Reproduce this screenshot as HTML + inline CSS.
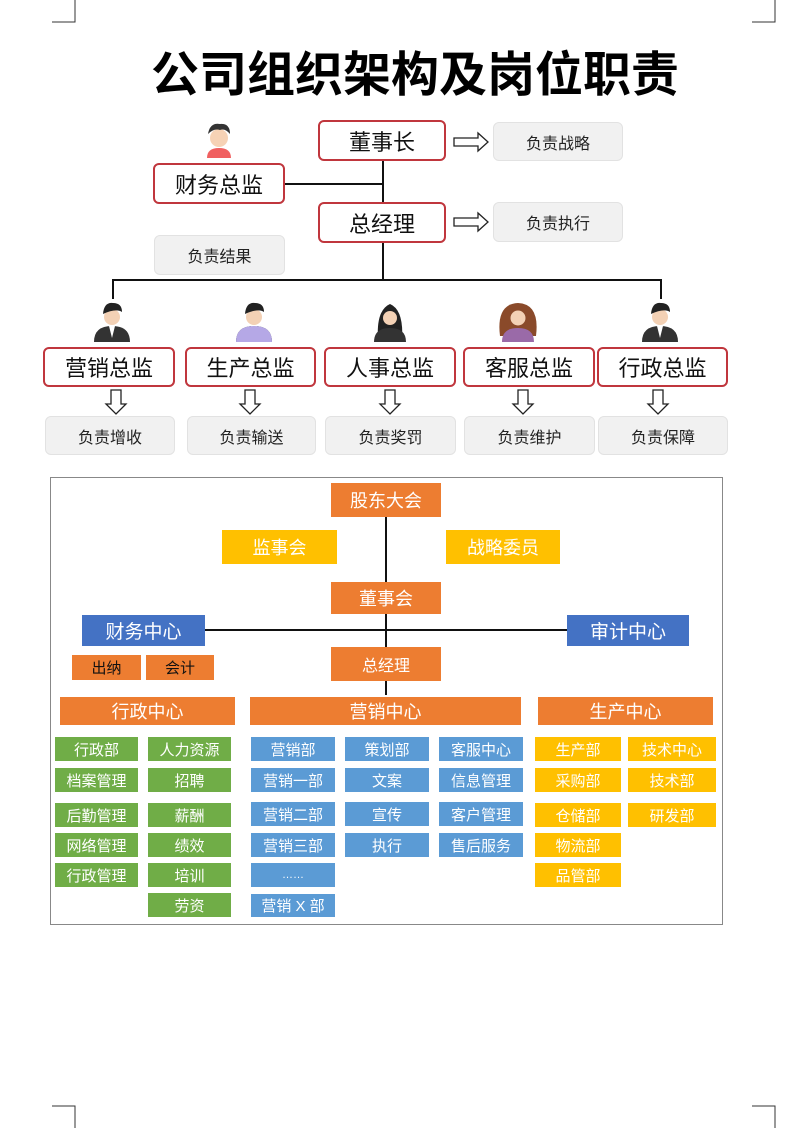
<!DOCTYPE html>
<html><head><meta charset="utf-8"><style>
body{margin:0;background:#fff;}
#c{position:relative;width:800px;height:1128px;overflow:hidden;font-family:"Liberation Sans","Noto Sans CJK SC",sans-serif;}
.a{position:absolute;box-sizing:border-box;display:flex;align-items:center;justify-content:center;white-space:nowrap;}
.r{border:2px solid #c0363d;border-radius:6px;background:#fff;font-size:22px;color:#111;}
.g{background:#f1f1f1;border:1px solid #e2e2e2;border-radius:6px;font-size:16px;color:#222;}
.o{background:#ed7d31;color:#fff;font-size:18px;}
.y{background:#ffc000;color:#fff;font-size:18px;}
.b{background:#4472c4;color:#fff;font-size:19px;}
.gr{background:#70ad47;color:#fff;font-size:15px;}
.bl{background:#5b9bd5;color:#fff;font-size:15px;}
.yl{background:#ffc000;color:#fff;font-size:15px;}
.l{position:absolute;background:#111;}
</style></head><body><div id="c">
<svg width="800" height="1128" style="position:absolute;left:0;top:0">
<g stroke="#333" stroke-width="1" fill="none">
<path d="M52 22H75V0M775 0V22H752M52 1106H75V1128M775 1128V1106H752"/>
</g>
<g stroke="#222" stroke-width="1.3" fill="#fff">
<path d="M454 138H478V133L488 142L478 151V146H454Z"/>
<path d="M454 218H478V213L488 222L478 231V226H454Z"/>
<path id="da" d="M111 390V404H106L116 414L126 404H121V390Z"/>
<use href="#da" x="134"/><use href="#da" x="274"/><use href="#da" x="407"/><use href="#da" x="542"/>
</g>
<g>
<!-- top person -->
<circle cx="219" cy="138" r="9" fill="#f6d2b5"/><path d="M208 134q2-12 12-10q10-1 10 10q-5-6-10-4q-6-2-12 4z" fill="#333"/>
<path d="M207 158q0-10 12-10q12 0 12 10z" fill="#f06060"/>
</g>
<g id="p1">
<circle cx="112" cy="317" r="8" fill="#f3d1b5"/><path d="M103 314q1-12 10-11q9 0 9 9q-6-4-19 2z" fill="#222"/>
<path d="M94 342q0-16 18-16q18 0 18 16z" fill="#333"/><path d="M109 326h6l-3 12z" fill="#fff"/>
</g>
<use href="#p1" x="142"/><use href="#p1" x="548"/>
<path d="M236 342q0-16 18-16q18 0 18 16z" fill="#b5a8e6"/>
<circle cx="390" cy="317" r="8" fill="#f3d1b5"/><path d="M378 340q-2-30 12-36q14 6 12 36z" fill="#222"/><circle cx="390" cy="318" r="7" fill="#f3d1b5"/>
<path d="M374 342q0-14 16-14q16 0 16 14z" fill="#333"/>
<path d="M500 336q-4-32 18-33q22 1 18 33z" fill="#8a4a2a"/><circle cx="518" cy="318" r="7.5" fill="#f3d1b5"/>
<path d="M502 342q0-14 16-14q16 0 16 14z" fill="#9a6aa8"/>
</svg>
<div class="a" style="left:80px;top:38px;width:670px;height:64px;font-size:48px;font-weight:bold;color:#000;">公司组织架构及岗位职责</div>
<div class="l" style="left:382px;top:160px;width:2px;height:121px"></div>
<div class="l" style="left:285px;top:183px;width:98px;height:2px"></div>
<div class="l" style="left:112px;top:279px;width:550px;height:2px"></div>
<div class="l" style="left:112px;top:279px;width:2px;height:20px"></div>
<div class="l" style="left:660px;top:279px;width:2px;height:20px"></div>
<div class="a r" style="left:318px;top:120px;width:128px;height:41px">董事长</div>
<div class="a g" style="left:493px;top:122px;width:130px;height:39px">负责战略</div>
<div class="a r" style="left:153px;top:163px;width:132px;height:41px">财务总监</div>
<div class="a r" style="left:318px;top:202px;width:128px;height:41px">总经理</div>
<div class="a g" style="left:493px;top:202px;width:130px;height:40px">负责执行</div>
<div class="a g" style="left:154px;top:235px;width:131px;height:40px">负责结果</div>
<div class="a r" style="left:43px;top:347px;width:132px;height:40px">营销总监</div>
<div class="a r" style="left:185px;top:347px;width:131px;height:40px">生产总监</div>
<div class="a r" style="left:324px;top:347px;width:132px;height:40px">人事总监</div>
<div class="a r" style="left:463px;top:347px;width:132px;height:40px">客服总监</div>
<div class="a r" style="left:597px;top:347px;width:131px;height:40px">行政总监</div>
<div class="a g" style="left:45px;top:416px;width:130px;height:39px">负责增收</div>
<div class="a g" style="left:187px;top:416px;width:129px;height:39px">负责输送</div>
<div class="a g" style="left:325px;top:416px;width:131px;height:39px">负责奖罚</div>
<div class="a g" style="left:464px;top:416px;width:131px;height:39px">负责维护</div>
<div class="a g" style="left:598px;top:416px;width:130px;height:39px">负责保障</div>

<div style="position:absolute;left:50px;top:477px;width:673px;height:448px;border:1.5px solid #888;box-sizing:border-box"></div>
<div class="l" style="left:385px;top:517px;width:2px;height:178px"></div>
<div class="l" style="left:205px;top:629px;width:362px;height:2px"></div>
<div class="a o" style="left:331px;top:483px;width:110px;height:34px">股东大会</div>
<div class="a y" style="left:222px;top:530px;width:115px;height:34px">监事会</div>
<div class="a y" style="left:446px;top:530px;width:114px;height:34px">战略委员</div>
<div class="a o" style="left:331px;top:582px;width:110px;height:32px">董事会</div>
<div class="a b" style="left:82px;top:615px;width:123px;height:31px">财务中心</div>
<div class="a b" style="left:567px;top:615px;width:122px;height:31px">审计中心</div>
<div class="a o" style="left:72px;top:655px;width:69px;height:25px;font-size:15px;color:#111">出纳</div>
<div class="a o" style="left:146px;top:655px;width:68px;height:25px;font-size:15px;color:#111">会计</div>
<div class="a o" style="left:331px;top:647px;width:110px;height:34px;font-size:16px">总经理</div>
<div class="a o" style="left:60px;top:697px;width:175px;height:28px">行政中心</div>
<div class="a o" style="left:250px;top:697px;width:271px;height:28px">营销中心</div>
<div class="a o" style="left:538px;top:697px;width:175px;height:28px">生产中心</div>

<div class="a gr" style="left:55px;top:737px;width:83px;height:24px">行政部</div>
<div class="a gr" style="left:148px;top:737px;width:83px;height:24px">人力资源</div>
<div class="a gr" style="left:55px;top:768px;width:83px;height:24px">档案管理</div>
<div class="a gr" style="left:148px;top:768px;width:83px;height:24px">招聘</div>
<div class="a gr" style="left:55px;top:803px;width:83px;height:24px">后勤管理</div>
<div class="a gr" style="left:148px;top:803px;width:83px;height:24px">薪酬</div>
<div class="a gr" style="left:55px;top:833px;width:83px;height:24px">网络管理</div>
<div class="a gr" style="left:148px;top:833px;width:83px;height:24px">绩效</div>
<div class="a gr" style="left:55px;top:863px;width:83px;height:24px">行政管理</div>
<div class="a gr" style="left:148px;top:863px;width:83px;height:24px">培训</div>
<div class="a gr" style="left:148px;top:893px;width:83px;height:24px">劳资</div>

<div class="a bl" style="left:251px;top:737px;width:84px;height:24px">营销部</div>
<div class="a bl" style="left:345px;top:737px;width:84px;height:24px">策划部</div>
<div class="a bl" style="left:439px;top:737px;width:84px;height:24px">客服中心</div>
<div class="a bl" style="left:251px;top:768px;width:84px;height:24px">营销一部</div>
<div class="a bl" style="left:345px;top:768px;width:84px;height:24px">文案</div>
<div class="a bl" style="left:439px;top:768px;width:84px;height:24px">信息管理</div>
<div class="a bl" style="left:251px;top:802px;width:84px;height:24px">营销二部</div>
<div class="a bl" style="left:345px;top:802px;width:84px;height:24px">宣传</div>
<div class="a bl" style="left:439px;top:802px;width:84px;height:24px">客户管理</div>
<div class="a bl" style="left:251px;top:833px;width:84px;height:24px">营销三部</div>
<div class="a bl" style="left:345px;top:833px;width:84px;height:24px">执行</div>
<div class="a bl" style="left:439px;top:833px;width:84px;height:24px">售后服务</div>
<div class="a bl" style="left:251px;top:863px;width:84px;height:24px;font-size:11px">……</div>
<div class="a bl" style="left:251px;top:894px;width:84px;height:23px">营销 X 部</div>

<div class="a yl" style="left:535px;top:737px;width:86px;height:24px">生产部</div>
<div class="a yl" style="left:628px;top:737px;width:88px;height:24px">技术中心</div>
<div class="a yl" style="left:535px;top:768px;width:86px;height:24px">采购部</div>
<div class="a yl" style="left:628px;top:768px;width:88px;height:24px">技术部</div>
<div class="a yl" style="left:535px;top:803px;width:86px;height:24px">仓储部</div>
<div class="a yl" style="left:628px;top:803px;width:88px;height:24px">研发部</div>
<div class="a yl" style="left:535px;top:833px;width:86px;height:24px">物流部</div>
<div class="a yl" style="left:535px;top:863px;width:86px;height:24px">品管部</div>
</div></body></html>
